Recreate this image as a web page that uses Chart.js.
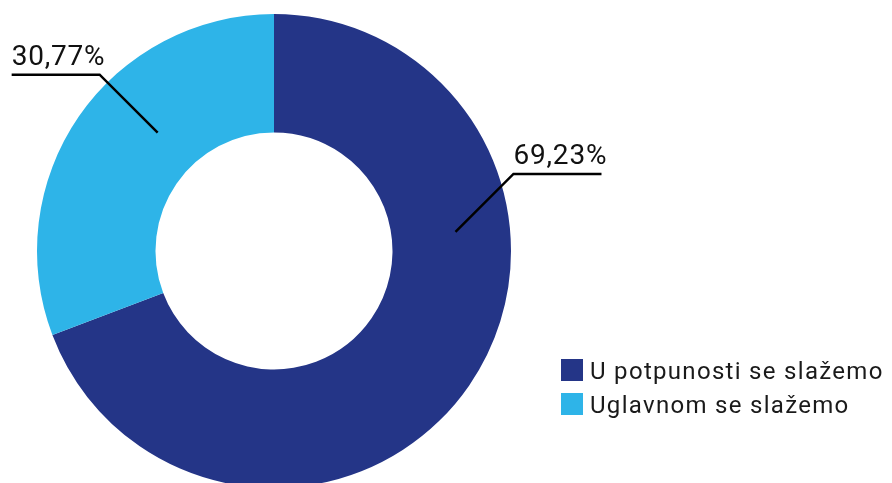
<!DOCTYPE html>
<html>
<head>
<meta charset="utf-8">
<script src="https://cdn.jsdelivr.net/npm/chart.js@4"></script>
<style>
  html, body { margin: 0; padding: 0; background: #fff; overflow: hidden; }
  #wrap { position: relative; width: 892px; height: 488px; }
</style>
</head>
<body>
<div id="wrap"><canvas id="c" width="892" height="488"></canvas></div>
<script>
const categories = ['U potpunosti se slažemo', 'Uglavnom se slažemo'];
const values = [69.23, 30.77];
const valueLabels = ['69,23%', '30,77%'];
const colors = ['#243587', '#2eb4e8'];

// leader-line placement (fraction along slice angle, fraction across ring, direction)
const leaderCfg = [
  { angFrac: 0.337, radFrac: 0.54, dir: 1 },
  { angFrac: 0.598, radFrac: 0.40, dir: -1 }
];

const labelPlugin = {
  id: 'leaders',
  afterDatasetsDraw(chart) {
    const ctx = chart.ctx;
    const meta = chart.getDatasetMeta(0);
    ctx.save();
    meta.data.forEach((arc, i) => {
      const p = arc.getProps(['x','y','startAngle','endAngle','innerRadius','outerRadius'], true);
      const cfg = leaderCfg[i];
      const a = p.startAngle + cfg.angFrac * (p.endAngle - p.startAngle);
      const r = p.innerRadius + cfg.radFrac * (p.outerRadius - p.innerRadius);
      const ax = p.x + r * Math.cos(a);
      const ay = p.y + r * Math.sin(a);
      const ex = ax + 58 * cfg.dir;
      const ey = ay - 58;
      const hx = ex + 88 * cfg.dir;
      ctx.strokeStyle = '#000';
      ctx.lineWidth = 2.5;
      ctx.lineCap = 'butt';
      ctx.lineJoin = 'miter';
      ctx.beginPath();
      ctx.moveTo(ax, ay);
      ctx.lineTo(ex, ey);
      ctx.lineTo(hx, ey);
      ctx.stroke();
      ctx.fillStyle = '#111';
      ctx.font = '28px Roboto';
      ctx.letterSpacing = '0.8px';
      ctx.textAlign = 'left';
      ctx.textBaseline = 'alphabetic';
      const tx = Math.min(ex, hx);
      ctx.fillText(valueLabels[i], tx, ey - 10);
    });
    // legend
    ctx.font = '24px Roboto';
    ctx.letterSpacing = '1.3px';
    categories.forEach((lab, i) => {
      const y = 359 + i * 34;
      ctx.fillStyle = colors[i];
      ctx.fillRect(561, y, 22, 22);
      ctx.fillStyle = '#1a1a1a';
      ctx.fillText(lab, 590, y + 20);
    });
    ctx.restore();
  }
};

new Chart(document.getElementById('c'), {
  type: 'doughnut',
  data: {
    labels: categories,
    datasets: [{
      data: values,
      backgroundColor: colors,
      borderWidth: 0,
      hoverOffset: 0
    }]
  },
  options: {
    responsive: false,
    devicePixelRatio: 1,
    animation: false,
    cutout: '50%',
    layout: { padding: { left: 37, top: 14, right: 381, bottom: 0 } },
    plugins: { legend: { display: false }, tooltip: { enabled: false } }
  },
  plugins: [labelPlugin]
});
</script>
</body>
</html>
